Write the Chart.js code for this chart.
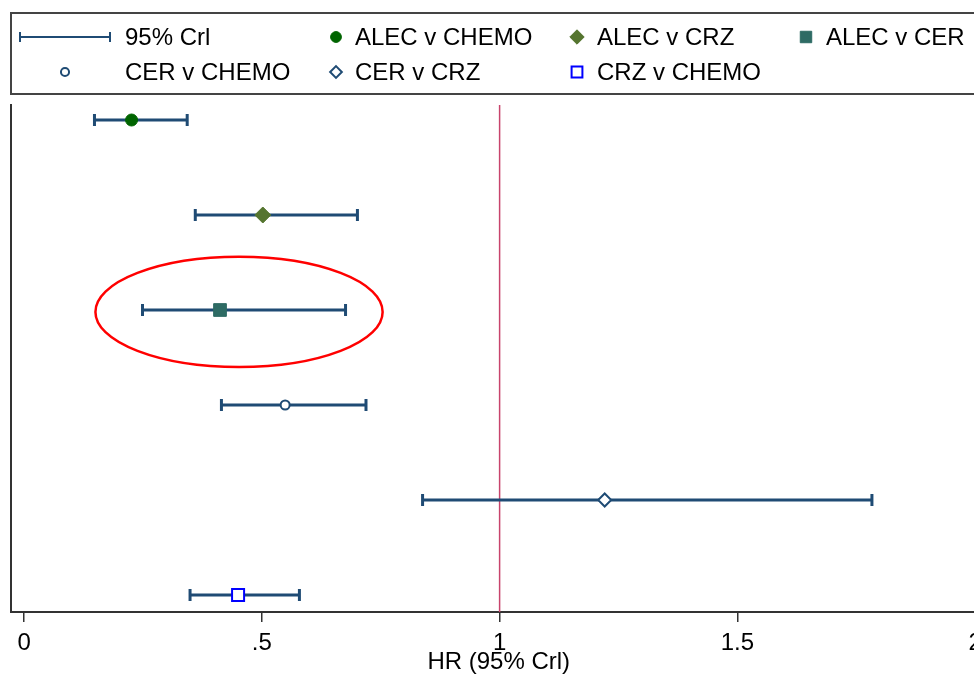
<!DOCTYPE html>
<html>
<head>
<meta charset="utf-8">
<script src="https://cdn.jsdelivr.net/npm/chart.js@4.4.1/dist/chart.umd.min.js"></script>
<style>
html, body { margin: 0; padding: 0; background: #fff; overflow: hidden; }
#wrap { width: 974px; height: 678px; overflow: hidden; }
</style>
</head>
<body>
<div id="wrap"><canvas id="mycanvas" width="1000" height="678"></canvas></div>
<script>
// data
var comparisons = ['ALEC v CHEMO', 'ALEC v CRZ', 'ALEC v CER', 'CER v CHEMO', 'CER v CRZ', 'CRZ v CHEMO'];
var rowPos = [1, 2, 3, 4, 5, 6];
var hr = [0.226, 0.502, 0.412, 0.549, 1.221, 0.450];
var crlLow = [0.148, 0.360, 0.249, 0.415, 0.838, 0.349];
var crlHigh = [0.343, 0.701, 0.676, 0.719, 1.783, 0.579];
var xTickValues = [0, 0.5, 1, 1.5, 2];
var xTickLabels = ['0', '.5', '1', '1.5', '2'];
var ciLabel = '95% Crl';
var axisTitle = 'HR (95% Crl)';
var refValue = 1;
// highlighted comparison (ALEC v CER)
var ringX = 0.452, ringRow = 3.02, ringHalfW = 0.302, ringHalfH = 0.58;

var navy = '#1f4b74';
var fontFamily = '"Liberation Sans", Arial, sans-serif';
Chart.defaults.font.family = fontFamily;

var markers = [
	{style: 'circle', radius: 6, fill: '#006400', stroke: '#006400', width: 1},
	{style: 'rectRot', radius: 8, fill: '#55752f', stroke: '#55752f', width: 1},
	{style: 'rect', radius: 9, fill: '#2e6b64', stroke: '#2e6b64', width: 1},
	{style: 'circle', radius: 4.5, fill: '#fff', stroke: navy, width: 2},
	{style: 'rectRot', radius: 6.5, fill: '#fff', stroke: navy, width: 2},
	{style: 'rect', radius: 8.5, fill: '#fff', stroke: '#0000ff', width: 2}
];

var datasets = [];
for (var i = 0; i < comparisons.length; i++) {
	datasets.push({
		type: 'scatter',
		label: comparisons[i],
		data: [{x: hr[i], y: rowPos[i]}],
		pointStyle: markers[i].style,
		pointRadius: markers[i].radius,
		pointBackgroundColor: markers[i].fill,
		pointBorderColor: markers[i].stroke,
		pointBorderWidth: markers[i].width,
		order: 1
	});
}
for (var j = 0; j < comparisons.length; j++) {
	datasets.push({
		type: 'line',
		label: ciLabel,
		data: [{x: crlLow[j], y: rowPos[j]}, {x: crlHigh[j], y: rowPos[j]}],
		borderColor: navy,
		borderWidth: 3,
		fill: false,
		pointStyle: 'line',
		pointRotation: 90,
		pointRadius: 6,
		pointBorderColor: navy,
		pointBorderWidth: 3,
		order: 2
	});
}

var refLine = {
	id: 'refLine',
	beforeDatasetsDraw: function(chart) {
		var ctx = chart.ctx, a = chart.chartArea;
		var px = chart.scales.x.getPixelForValue(refValue);
		ctx.save();
		ctx.strokeStyle = '#c8446c';
		ctx.lineWidth = 1.5;
		ctx.beginPath();
		ctx.moveTo(px, a.top);
		ctx.lineTo(px, a.bottom);
		ctx.stroke();
		ctx.restore();
	}
};

var ring = {
	id: 'ring',
	afterDatasetsDraw: function(chart) {
		var ctx = chart.ctx, x = chart.scales.x, y = chart.scales.y;
		var cx = x.getPixelForValue(ringX), cy = y.getPixelForValue(ringRow);
		var rx = x.getPixelForValue(ringX + ringHalfW) - cx;
		var ry = Math.abs(y.getPixelForValue(ringRow + ringHalfH) - cy);
		ctx.save();
		ctx.strokeStyle = '#ff0000';
		ctx.lineWidth = 2.5;
		ctx.beginPath();
		ctx.ellipse(cx, cy, rx, ry, 0, 0, 2 * Math.PI);
		ctx.stroke();
		ctx.restore();
	}
};

// legend box in the Stata layout: 4 columns, 2 rows
var legendBox = {
	id: 'legendBox',
	afterDraw: function(chart) {
		var ctx = chart.ctx;
		var slots = [
			{mx: 65, tx: 125, y: 37},
			{mx: 336, tx: 355, y: 37},
			{mx: 577, tx: 597, y: 37},
			{mx: 806, tx: 826, y: 37},
			{mx: 65, tx: 125, y: 72},
			{mx: 336, tx: 355, y: 72},
			{mx: 577, tx: 597, y: 72}
		];
		ctx.save();
		ctx.strokeStyle = '#444';
		ctx.lineWidth = 2;
		ctx.strokeRect(11, 13, chart.width, 81);

		ctx.font = '24px ' + fontFamily;
		ctx.fillStyle = '#000';
		ctx.textBaseline = 'middle';

		// CI key
		var s = slots[0];
		ctx.strokeStyle = navy;
		ctx.lineWidth = 2;
		ctx.beginPath();
		ctx.moveTo(20, s.y); ctx.lineTo(110, s.y);
		ctx.moveTo(20, s.y - 5); ctx.lineTo(20, s.y + 5);
		ctx.moveTo(110, s.y - 5); ctx.lineTo(110, s.y + 5);
		ctx.stroke();
		ctx.fillText(ciLabel, s.tx, s.y + 1);

		for (var k = 0; k < comparisons.length; k++) {
			s = slots[k + 1];
			var m = markers[k];
			ctx.fillStyle = m.fill;
			ctx.strokeStyle = m.stroke;
			ctx.lineWidth = m.width;
			Chart.helpers.drawPoint(ctx, {pointStyle: m.style, rotation: 0, radius: m.radius * 0.9, borderWidth: m.width}, s.mx, s.y);
			ctx.fillStyle = '#000';
			ctx.fillText(comparisons[k], s.tx, s.y + 1);
		}
		ctx.restore();
	}
};

var ctx = document.getElementById('mycanvas');
var chart = new Chart(ctx, {
	type: 'scatter',
	data: {datasets: datasets},
	plugins: [refLine, ring, legendBox],
	options: {
		responsive: false,
		animation: false,
		events: [],
		layout: {padding: {top: 105, left: 10, right: 13, bottom: 0}},
		plugins: {legend: {display: false}, tooltip: {enabled: false}},
		scales: {
			x: {
				type: 'linear',
				min: -0.0286,
				max: 2.025,
				afterBuildTicks: function(scale) {
					scale.ticks = xTickValues.map(function(v) { return {value: v}; });
				},
				afterFit: function(scale) { scale.height = 66; },
				ticks: {
					callback: function(v) { return xTickLabels[xTickValues.indexOf(v)]; },
					font: {size: 24},
					color: '#000',
					padding: 7,
					maxRotation: 0,
					autoSkip: false
				},
				grid: {display: true, drawOnChartArea: false, drawTicks: true, tickLength: 10, color: '#333', lineWidth: 1.5},
				border: {display: true, color: '#333', width: 2},
				title: {display: true, text: axisTitle, font: {size: 24}, color: '#000', padding: {top: 0, bottom: 1}}
			},
			y: {
				type: 'linear',
				reverse: true,
				min: 0.842,
				max: 6.179,
				afterFit: function(scale) { scale.width = 0; },
				ticks: {display: false},
				grid: {display: false, drawTicks: false},
				border: {display: true, color: '#333', width: 2}
			}
		}
	}
});
</script>
</body>
</html>
